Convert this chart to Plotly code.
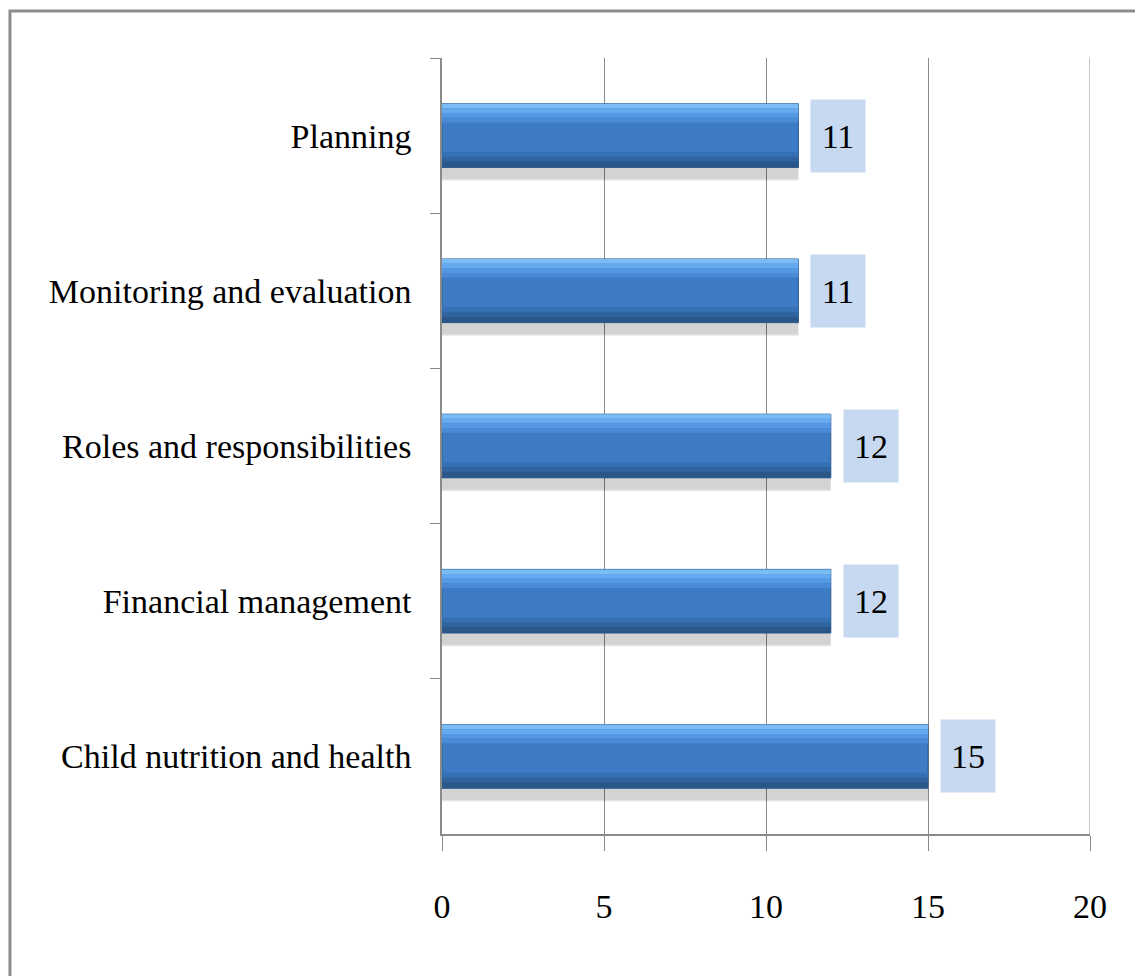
import plotly.graph_objects as go

# Données (ordre d'affichage, de haut en bas)
categories = [
    "Planning",
    "Monitoring and evaluation",
    "Roles and responsibilities",
    "Financial management",
    "Child nutrition and health",
]
values = [11, 11, 12, 12, 15]
x_ticks = [0, 5, 10, 15, 20]

FONT = "Liberation Serif, Times New Roman, serif"
GRID = "#8a8a8a"
BAR_W = 0.41

fig = go.Figure()

# Ombre portée sous les barres (deux couches pour l'effet de fondu)
for off, w, alpha in [(-0.12, 0.41, 0.10), (-0.10, 0.38, 0.08)]:
    fig.add_trace(go.Bar(
        x=values, y=categories, orientation="h",
        width=w, offset=off,
        marker=dict(color=f"rgba(0,0,0,{alpha})", line=dict(width=0)),
        hoverinfo="skip", showlegend=False,
    ))

# Corps de la barre
fig.add_trace(go.Bar(
    x=values, y=categories, orientation="h",
    width=BAR_W, offset=-BAR_W / 2,
    marker=dict(color="#3d7cc5", line=dict(color="#2c5a92", width=1)),
    hovertemplate="<b>%{y}</b><br>%{x}<extra></extra>",
    showlegend=False,
))

# Bandes de dégradé : reflet clair en haut, ombre foncée en bas
bands = [
    (0.00, 0.03, "#7bbcf5"),
    (0.03, 0.06, "#65a9ee"),
    (0.06, 0.09, "#5598e3"),
    (0.09, 0.12, "#4a8ad7"),
    (0.31, 0.34, "#3670b4"),
    (0.34, 0.37, "#30649f"),
    (0.37, 0.41, "#2a5688"),
]
for start, end, col in bands:
    fig.add_trace(go.Bar(
        x=values, y=categories, orientation="h",
        width=end - start, offset=-BAR_W / 2 + start,
        marker=dict(color=col, line=dict(width=0)),
        hoverinfo="skip", showlegend=False,
    ))

# Étiquettes de valeur dans un cadre bleu clair
for cat, v in zip(categories, values):
    fig.add_annotation(
        x=v, y=cat, text=str(v),
        xanchor="left", xshift=12, showarrow=False,
        bgcolor="#c6d9f1", width=52, height=70,
        font=dict(family=FONT, size=34, color="black"),
    )

# La page ajoute 8 px de marge autour du graphique : on compense dans les marges
fig.update_layout(
    barmode="overlay",
    width=1143, height=976,
    paper_bgcolor="white", plot_bgcolor="white",
    margin=dict(l=434, r=61, t=50, b=150),
    font=dict(family=FONT, size=34, color="black"),
    xaxis=dict(
        range=[x_ticks[0], x_ticks[-1]], tickvals=x_ticks,
        showgrid=True, gridcolor=GRID, gridwidth=1,
        zeroline=False,
        showline=True, linecolor=GRID, linewidth=1.5,
        ticks="outside", ticklen=15, tickcolor=GRID,
        ticklabelstandoff=26,
        tickfont=dict(family=FONT, size=34),
    ),
    yaxis=dict(
        autorange="reversed",
        showgrid=False, zeroline=False,
        showline=True, linecolor=GRID, linewidth=1.5,
        ticks="outside", ticklen=10, tickcolor=GRID,
        tickson="boundaries",
        ticklabelstandoff=22,
        tickfont=dict(family=FONT, size=34),
    ),
    shapes=[
        # cadre gris autour de la figure
        dict(
            type="rect", xref="paper", yref="paper",
            x0=-0.6667, x1=1.0787, y0=-0.25, y1=1.0606,
            line=dict(color="#8c8c8c", width=3),
            fillcolor="rgba(0,0,0,0)", layer="below",
        ),
        # Plotly masque la grille au bord droit : on la redessine
        dict(
            type="line", xref="x", yref="paper",
            x0=x_ticks[-1], x1=x_ticks[-1], y0=0, y1=1,
            line=dict(color=GRID, width=1), layer="below",
        ),
    ],
)

fig.write_html("out.html")
